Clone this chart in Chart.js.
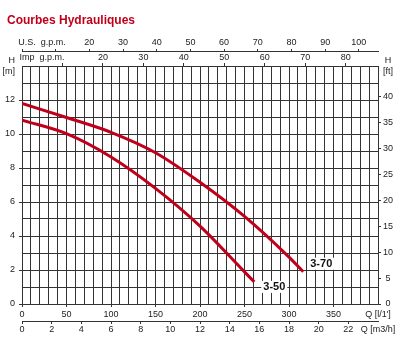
<!DOCTYPE html>
<html>
<head>
<meta charset="utf-8">
<script src="https://cdn.jsdelivr.net/npm/chart.js@4/dist/chart.umd.min.js"></script>
<style>
  html, body { margin: 0; padding: 0; background: #fff; }
  canvas { display: block; }
</style>
</head>
<body>
<canvas id="pumpChart" width="400" height="338"></canvas>
<script>
// Pump performance curves: head H against flow Q
const chartTitle = 'Courbes Hydrauliques';
const pumpModels = ['3-50', '3-70'];

// Flow in l/min and head in m for each pump
const flow3_50 = [0, 50, 100, 150, 200, 250, 261];
const head3_50 = [10.82, 10.02, 8.65, 6.8, 4.58, 1.89, 1.3];
const flow3_70 = [0, 50, 100, 150, 200, 250, 300, 316];
const head3_70 = [11.8, 10.97, 10.1, 8.9, 7.16, 5.15, 2.76, 1.9];

// Axis tick labels
const flowTicks = [0, 50, 100, 150, 200, 250, 300, 350];
const headTicksM = [0, 2, 4, 6, 8, 10, 12];
const headTicksFt = [0, 5, 10, 15, 20, 25, 30, 35, 40];
const usGpmTicks = [20, 30, 40, 50, 60, 70, 80, 90, 100];
const impGpmTicks = [20, 30, 40, 50, 60, 70, 80];
const m3hTicks = [0, 2, 4, 6, 8, 10, 12, 14, 16, 18, 20, 22];

// Unit conversions
const L_PER_US_GAL = 3.785;
const L_PER_IMP_GAL = 4.546;
const M_PER_FT = 0.3048;
const FLOW_MAX = 400;   // l/min
const HEAD_MAX = 14;    // m

const INK = '#222';
const GRID = '#333';
const RED = '#c0001a';
const NONE = 'rgba(0,0,0,0)';
const FAMILY = "'Liberation Sans', Arial, sans-serif";
const FONT = { family: FAMILY, size: 9 };

// the unit caption of the top scales sits just right of Q = 0
const captionQ = 22.5;
const usCaption = captionQ / L_PER_US_GAL;
const impCaption = captionQ / L_PER_IMP_GAL;

const toPoints = (xs, ys) => xs.map((q, i) => ({ x: q, y: ys[i] }));
const setTicks = values => scale => { scale.ticks = values.slice().sort((a, b) => a - b).map(v => ({ value: v })); };

// Heading in the top-left corner
const heading = {
  id: 'heading',
  afterDraw(chart) {
    const ctx = chart.ctx;
    ctx.save();
    ctx.font = 'bold 12px ' + FAMILY;
    ctx.fillStyle = RED;
    ctx.textAlign = 'left';
    ctx.textBaseline = 'alphabetic';
    ctx.fillText(chartTitle, 7, 23.5);
    ctx.restore();
  }
};

// Model names drawn beside the end of each curve, on a white patch
const curveLabels = {
  id: 'curveLabels',
  afterDatasetsDraw(chart) {
    const ctx = chart.ctx;
    const offsets = [{ dx: 20, dy: 5 }, { dx: 18, dy: -8 }];
    ctx.save();
    ctx.font = 'bold 11px ' + FAMILY;
    ctx.textAlign = 'center';
    ctx.textBaseline = 'middle';
    chart.data.datasets.forEach((ds, i) => {
      const pts = chart.getDatasetMeta(i).data;
      const end = pts[pts.length - 1];
      const x = end.x + offsets[i].dx;
      const y = end.y + offsets[i].dy;
      const w = ctx.measureText(ds.label).width + 4;
      ctx.fillStyle = '#fff';
      ctx.fillRect(x - w / 2, y - 6, w, 12);
      ctx.fillStyle = '#111';
      ctx.fillText(ds.label, x, y + 0.5);
    });
    ctx.restore();
  }
};

new Chart(document.getElementById('pumpChart'), {
  type: 'line',
  data: {
    datasets: [
      { label: pumpModels[0], data: toPoints(flow3_50, head3_50) },
      { label: pumpModels[1], data: toPoints(flow3_70, head3_70) }
    ].map(d => Object.assign(d, {
      borderColor: RED,
      borderWidth: 3,
      pointRadius: 0,
      fill: false,
      cubicInterpolationMode: 'monotone',
      xAxisID: 'x',
      yAxisID: 'y'
    }))
  },
  options: {
    responsive: false,
    animation: false,
    layout: { padding: { left: 0, right: 0, top: 35, bottom: 0 } },
    plugins: {
      legend: { display: false },
      tooltip: { enabled: false },
      title: { display: false }
    },
    scales: {
      x: {
        type: 'linear', position: 'bottom', weight: 0,
        min: 0, max: FLOW_MAX,
        afterFit: s => { s.height = 17; },
        ticks: {
          stepSize: 10, autoSkip: false, maxRotation: 0, padding: 2, color: INK, font: FONT,
          callback: v => v === FLOW_MAX ? "Q [l/1']" : (flowTicks.includes(v) ? String(v) : '')
        },
        grid: {
          color: GRID, lineWidth: 1, tickLength: 3,
          tickColor: c => (c.tick && (flowTicks.includes(c.tick.value))) ? GRID : NONE
        },
        border: { color: GRID }
      },
      m3h: {
        type: 'linear', position: 'bottom', weight: 1,
        min: 0, max: FLOW_MAX * 60 / 1000,
        afterFit: s => { s.height = 17; },
        afterBuildTicks: setTicks([...m3hTicks, FLOW_MAX * 60 / 1000]),
        ticks: {
          autoSkip: false, maxRotation: 0, padding: 0, color: INK, font: FONT,
          callback: v => m3hTicks.includes(v) ? String(v) : 'Q [m3/h]'
        },
        grid: {
          drawOnChartArea: false, tickLength: 3,
          tickColor: c => (c.tick && m3hTicks.includes(c.tick.value)) ? GRID : NONE
        },
        border: { display: true, color: GRID }
      },
      imp: {
        type: 'linear', position: 'top', weight: 0,
        min: 0, max: FLOW_MAX / L_PER_IMP_GAL,
        afterFit: s => { s.height = 15; },
        afterBuildTicks: setTicks([10, impCaption, ...impGpmTicks]),
        ticks: {
          autoSkip: false, maxRotation: 0, padding: 0, color: INK, font: FONT,
          callback: v => v === impCaption ? 'Imp  g.p.m.' : (impGpmTicks.includes(v) ? String(v) : '')
        },
        grid: {
          drawOnChartArea: false, tickLength: 3,
          tickColor: c => (c.tick && c.tick.value !== impCaption) ? GRID : NONE
        },
        border: { display: false }
      },
      us: {
        type: 'linear', position: 'top', weight: 1,
        min: 0, max: FLOW_MAX / L_PER_US_GAL,
        afterFit: s => { s.height = 16; },
        afterBuildTicks: setTicks([0, 10, usCaption, ...usGpmTicks]),
        ticks: {
          autoSkip: false, maxRotation: 0, padding: 1, color: INK, font: FONT,
          callback: v => v === usCaption ? 'U.S.  g.p.m.' : (usGpmTicks.includes(v) ? String(v) : '')
        },
        grid: {
          drawOnChartArea: false, tickLength: 2,
          tickColor: c => (c.tick && c.tick.value !== usCaption) ? GRID : NONE
        },
        border: { display: true, color: GRID }
      },
      y: {
        type: 'linear', position: 'left',
        min: 0, max: HEAD_MAX,
        afterFit: s => { s.width = 22; },
        ticks: {
          stepSize: 1, autoSkip: false, padding: 4, color: INK, font: FONT,
          callback: v => v === HEAD_MAX ? ['H', '[m]'] : (headTicksM.includes(v) ? String(v) : '')
        },
        grid: {
          color: GRID, lineWidth: 1, tickLength: 3,
          tickColor: c => (c.tick && headTicksM.includes(c.tick.value)) ? GRID : NONE
        },
        border: { color: GRID }
      },
      ft: {
        type: 'linear', position: 'right',
        min: 0, max: HEAD_MAX / M_PER_FT,
        afterFit: s => { s.width = 22; },
        afterBuildTicks: setTicks([...headTicksFt, HEAD_MAX / M_PER_FT]),
        ticks: {
          autoSkip: false, padding: 2, crossAlign: 'center', color: INK, font: FONT,
          callback: v => headTicksFt.includes(v) ? String(v) : ['H', '[ft]']
        },
        grid: {
          drawOnChartArea: false, tickLength: 3,
          tickColor: c => (c.tick && headTicksFt.includes(c.tick.value)) ? GRID : NONE
        },
        border: { display: false }
      }
    }
  },
  plugins: [curveLabels, heading]
});
</script>
</body>
</html>
